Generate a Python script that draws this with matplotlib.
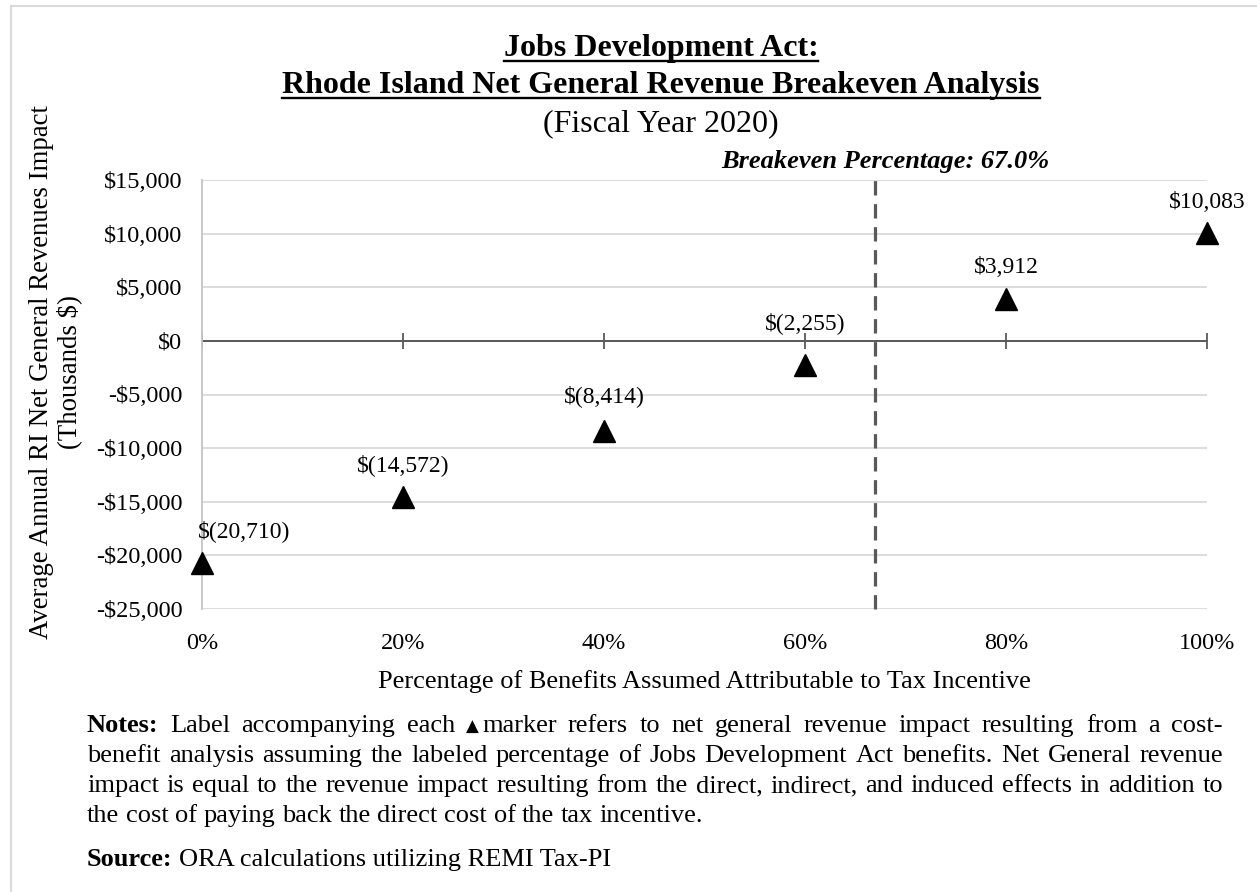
import matplotlib
matplotlib.use('Agg')
import matplotlib.pyplot as plt
from matplotlib.lines import Line2D

# share of benefits attributed to the incentive (%) and net GR impact (thousands $)
pct = [0, 20, 40, 60, 80, 100]
impact = [-20710, -14572, -8414, -2255, 3912, 10083]
breakeven = 67.0
x_ticks = [0, 20, 40, 60, 80, 100]
y_ticks = [-25000, -20000, -15000, -10000, -5000, 0, 5000, 10000, 15000]

title_lines = ['Jobs Development Act:',
               'Rhode Island Net General Revenue Breakeven Analysis']
subtitle = '(Fiscal Year 2020)'
ylabel_lines = ['Average Annual RI Net General Revenues Impact', '(Thousands $)']
xlabel = 'Percentage of Benefits Assumed Attributable to Tax Incentive'

notes = [
    [('Notes:', {'weight': 'bold'}), 'Label', 'accompanying', 'each',
     ('\u25B2', {'family': 'DejaVu Sans', 'fontsize': 12}, True), 'marker', 'refers', 'to',
     'net', 'general', 'revenue', 'impact', 'resulting', 'from', 'a', 'cost-'],
    'benefit analysis assuming the labeled percentage of Jobs Development Act benefits. Net General revenue'.split(),
    'impact is equal to the revenue impact resulting from the direct, indirect, and induced effects in addition to'.split(),
    'the cost of paying back the direct cost of the tax incentive.'.split(),
]
source = [('Source:', {'weight': 'bold'}), 'ORA calculations utilizing REMI Tax-PI']


def money(v):
    return f'${v:,.0f}' if v >= 0 else f'$({-v:,.0f})'


def axis_money(v):
    return f'${v:,.0f}' if v >= 0 else f'-${-v:,.0f}'


W, H = 1257, 892
plt.rcParams['font.family'] = ['Liberation Serif', 'DejaVu Sans']
fig = plt.figure(figsize=(W / 100, H / 100), dpi=100)
fig.patch.set_facecolor('white')

# page edge lines
fig.add_artist(Line2D([11 / W, 1], [1 - 6 / H] * 2, color='#dadada', lw=1.5))
fig.add_artist(Line2D([11 / W] * 2, [0, 1 - 6 / H], color='#dadada', lw=1.5))

ax = fig.add_axes([202 / W, 1 - 609 / H, (1207 - 202) / W, (609 - 180) / H])
ax.set_xlim(0, 100)
ax.set_ylim(-25000, 15000)
ax.set_yticks(y_ticks)
ax.set_yticklabels([axis_money(v) for v in y_ticks])
ax.set_xticks(x_ticks)
ax.set_xticklabels([f'{v}%' for v in x_ticks])
ax.tick_params(axis='both', length=0, labelsize=17.5)
ax.tick_params(axis='y', pad=14)
ax.tick_params(axis='x', pad=17)
ax.grid(axis='y', color='#d9d9d9', lw=1.3)
ax.set_axisbelow(True)
for s in ['top', 'right', 'bottom']:
    ax.spines[s].set_visible(False)
ax.spines['left'].set_color('#c4c4c4')
ax.spines['left'].set_linewidth(1.3)

# zero line with its tick marks
ax.axhline(0, color='#595959', lw=1.4, zorder=2)
ax.plot(x_ticks, [0] * len(x_ticks), ls='none', marker='|', ms=11,
        mew=1.3, color='#595959', zorder=2)

# breakeven marker
ax.axvline(breakeven, ymin=0, ymax=1.005, color='#595959', lw=2.3,
           ls=(0, (4.5, 2.7)), clip_on=False, zorder=3)
ax.annotate(f'Breakeven Percentage: {breakeven:.1f}%', (breakeven, 1.028),
            xycoords=ax.get_xaxis_transform(), xytext=(7, 0),
            textcoords='offset points', ha='center', va='baseline',
            fontsize=19, weight='bold', style='italic', annotation_clip=False)

ax.plot(pct, impact, ls='none', marker='^', ms=16.5, color='black',
        clip_on=False, zorder=5)
label_dy = [19, 19, 21, 26, 19, 18]
for i, (x, v) in enumerate(zip(pct, impact)):
    if i == 0:
        ax.annotate(money(v), (x, v), xytext=(-3, label_dy[i]), textcoords='offset points',
                    ha='left', va='baseline', fontsize=17)
    else:
        ax.annotate(money(v), (x, v), xytext=(0, label_dy[i]), textcoords='offset points',
                    ha='center', va='baseline', fontsize=17)

# titles, axis labels
r = fig.canvas.get_renderer()
for txt, base in zip(title_lines, [56, 93]):
    t = fig.text(661 / W, 1 - base / H, txt, ha='center', va='baseline',
                 fontsize=23, weight='bold')
    bb = t.get_window_extent(r)
    fig.add_artist(Line2D([bb.x0 / W, bb.x1 / W], [1 - (base + 5) / H] * 2,
                          color='black', lw=1.7))
fig.text(661 / W, 1 - 131 / H, subtitle, ha='center', va='baseline', fontsize=23)

fig.text(42 / W, 1 - 372 / H, ylabel_lines[0], rotation=90, ha='center',
         va='center', fontsize=19.3)
fig.text(69 / W, 1 - 372 / H, ylabel_lines[1], rotation=90, ha='center',
         va='center', fontsize=19.3)
fig.text(704 / W, 1 - 688 / H, xlabel, ha='center', va='baseline', fontsize=19)


def text_line(tokens, x0, base, x1=None, size=19):
    items, tight = [], []
    for tok in tokens:
        if isinstance(tok, str):
            s, kw, tg = tok, {}, False
        else:
            s, kw = tok[0], dict(tok[1])
            tg = tok[2] if len(tok) > 2 else False
        fs = kw.pop('fontsize', size)
        items.append(fig.text(0, 1 - base / H, s, fontsize=fs, va='baseline', **kw))
        tight.append(tg)
    widths = [t.get_window_extent(r).width for t in items]
    gap_small = 3
    n_gaps = sum(1 for g in tight[:-1] if not g)
    space = 0.25 * size * 100 / 72
    if x1 is not None and n_gaps:
        fixed = sum(widths) + gap_small * sum(1 for g in tight[:-1] if g)
        space = (x1 - x0 - fixed) / n_gaps
    x = x0
    for t, w, g in zip(items, widths, tight):
        t.set_x(x / W)
        x += w + (gap_small if g else space)


for k, (line, base) in enumerate(zip(notes, [732, 762, 792, 822])):
    text_line(line, 87, base, x1=1223 if k < 3 else None)
text_line(source, 87, 866)

fig.savefig('out.png', dpi=100)
